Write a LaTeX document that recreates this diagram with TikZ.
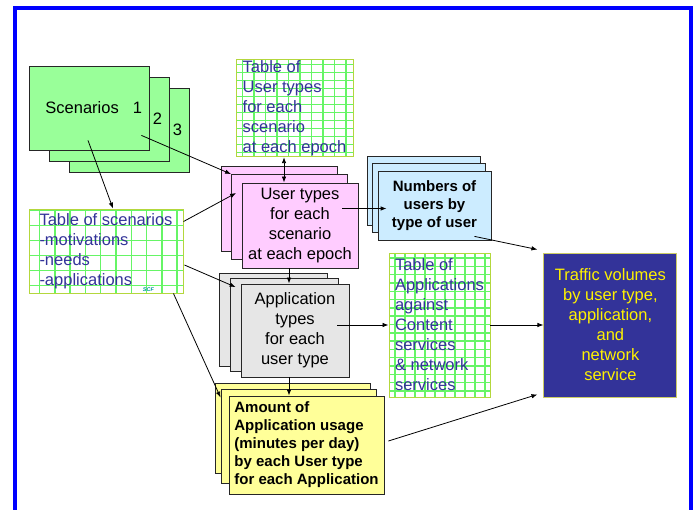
\documentclass[tikz,border=0pt]{standalone}
\usepackage{fontspec}
\setmainfont{Liberation Sans}
\usetikzlibrary{arrows.meta,positioning,calc}
\definecolor{FrameBlue}{RGB}{0,0,255}
\definecolor{ScenGreen}{RGB}{153,255,153}
\definecolor{UserPink}{RGB}{255,204,255}
\definecolor{CountBlue}{RGB}{204,236,255}
\definecolor{AppGray}{RGB}{230,230,230}
\definecolor{UsageYellow}{RGB}{255,255,153}
\definecolor{TrafficBlue}{RGB}{51,51,153}
\definecolor{TrafficEdge}{RGB}{204,204,102}
\definecolor{TabLine}{RGB}{180,215,60}
\definecolor{GridGreen}{RGB}{102,245,102}
\definecolor{TabInk}{RGB}{51,51,153}
\definecolor{SigTeal}{RGB}{0,153,153}
\tikzset{
  stackbox/.style={draw=black!85, line width=0.8pt, minimum width=#1, inner sep=2pt,
    font=\fontsize{16.5}{20}\selectfont, align=center},
  scenbox/.style={stackbox=120pt, fill=ScenGreen, minimum height=84pt,
    inner xsep=7pt, text width=106pt, align=right},
  userbox/.style={stackbox=116pt, fill=UserPink, minimum height=85pt},
  countbox/.style={stackbox=113pt, fill=CountBlue, minimum height=69pt,
    font=\fontsize{15}{18}\selectfont\bfseries},
  appbox/.style={stackbox=108pt, fill=AppGray, minimum height=93pt},
  usagebox/.style={stackbox=155pt, fill=UsageYellow, minimum height=98pt,
    font=\fontsize{15}{18}\selectfont\bfseries, align=left},
  % ---- tablas con cuadricula ----
  gridtab/.style n args={4}{draw=TabLine, line width=0.9pt, fill=white,
    minimum width=#1, minimum height=#2, inner sep=1pt, align=left, text=TabInk,
    font=\fontsize{16.5}{20}\selectfont,
    path picture={\draw[GridGreen, line width=1.5pt]
      (path picture bounding box.south west) grid[xstep=#3, ystep=#4]
      (path picture bounding box.north east);}},
  trafbox/.style={draw=TrafficEdge, line width=0.9pt, fill=TrafficBlue, text=yellow,
    minimum width=133pt, minimum height=144pt, align=center, inner sep=1pt,
    font=\fontsize{16.5}{20}\selectfont},
  sigtext/.style={text=SigTeal, font=\fontsize{5.5}{6}\selectfont\bfseries\itshape, inner sep=0pt},
  flowarr/.style={-{Latex[length=6pt, width=4.5pt]}, line width=0.8pt, black},
  dblarr/.style={{Latex[length=6pt, width=4.5pt]}-{Latex[length=6pt, width=4.5pt]}, line width=0.8pt, black},
}
\begin{document}
\begin{tikzpicture}[x=1pt, y=-1pt]
    \useasboundingbox (0,0) rectangle (695,510);
    \draw[FrameBlue, line width=4pt, line join=miter] (15,510) -- (15,8) -- (691,8) -- (691,510);

    \node[scenbox] (scen3) at (129,130) {3};
    \node[scenbox] (scen2) at ($(scen3)+(-20,-11)$) {2};
    \node[scenbox] (scen1) at ($(scen2)+(-20,-11)$) {Scenarios\hspace{14pt}1};

    \node[gridtab={154pt}{84pt}{15.3pt}{15pt}] (tabscen) at (106,251)
      {Table of scenarios\\-motivations\\-needs\\-applications};
    \node[sigtext] (scf) at ($(tabscen.south east)+(-35,-4)$) {SCF};

    \node[gridtab={117pt}{96pt}{11.5pt}{8pt}] (tabusr) at (294.5,108)
      {Table of\\User types\\for each\\scenario\\at each epoch};

    \node[userbox] (usr3) at (279,208.5) {};
    \node[userbox] (usr2) at ($(usr3)+(10.5,8.5)$) {};
    \node[userbox] (usr1) at ($(usr2)+(10.5,8.5)$) {User types\\for each\\scenario\\at each epoch};

    \node[countbox] (num3) at (423.5,190.5) {};
    \node[countbox] (num2) at ($(num3)+(5.5,7.5)$) {};
    \node[countbox] (num1) at ($(num2)+(5.5,7.5)$) {Numbers of\\users by\\type of user};

    \node[appbox] (app3) at (273,319.5) {};
    \node[appbox] (app2) at ($(app3)+(11,5.5)$) {};
    \node[appbox] (app1) at ($(app2)+(11,5.5)$) {Application\\types\\for each\\user type};

    \node[usagebox, minimum height=90pt] (amt3) at (292.5,428) {};
    \node[usagebox, minimum height=94pt] (amt2) at ($(amt3)+(6,8)$) {};
    \node[usagebox] (amt1) at ($(amt2)+(8,9)$)
      {Amount of\\Application usage\\(minutes per day)\\by each User type\\for each Application};

    \node[gridtab={101pt}{144pt}{10pt}{8.3pt}] (tabapp) at (439.5,325)
      {Table of\\Applications\\against\\Content\\services\\\& network\\services};
    \node[trafbox, right=53pt of tabapp] (traf)
      {Traffic volumes\\by user type,\\application,\\and\\network\\service};

    \coordinate (usrtop) at ($(usr1.north)+(-16,0)$);
    \coordinate (apptop) at ($(app1.north)+(-6,0)$);

    \draw[flowarr] ($(scen1.south)+(-1,-10)$) -- ($(tabscen.north)+(7,0)$);
    \draw[flowarr] ($(scen1.south east)+(-8,-15)$) -- (usr2.north west);
    \draw[flowarr] ($(tabscen.north east)+(0,13)$) -- ($(usr2.west)+(5,-24)$);
    \draw[flowarr] ($(tabscen.east)+(1,14)$) -- ($(app2.north west)+(6,9)$);
    \draw[flowarr] ($(tabscen.south east)+(-10,0)$) -- ($(amt2.north west)+(0,9)$);
    \draw[dblarr] (usrtop) -- (usrtop |- tabusr.south);
    \draw[flowarr] ($(usr1.center)+(42,-17)$) -- ($(num1.west)+(9,3)$);
    \draw[flowarr] ($(num1.south)+(40,-4)$) -- ($(traf.north west)+(-6,-3)$);
    \draw[flowarr] (apptop |- usr1.south) -- (apptop);
    \draw[flowarr] ($(app1.center)+(42,-5.5)$) -- (tabapp.west);
    \draw[flowarr] (apptop |- app1.south) -- (apptop |- amt1.north);
    \draw[flowarr] (tabapp.east) -- (traf.west);
    \draw[flowarr] ($(amt1.east)+(4,-4)$) -- ($(traf.south west)+(-6,-3)$);
  \end{tikzpicture}
\end{document}
